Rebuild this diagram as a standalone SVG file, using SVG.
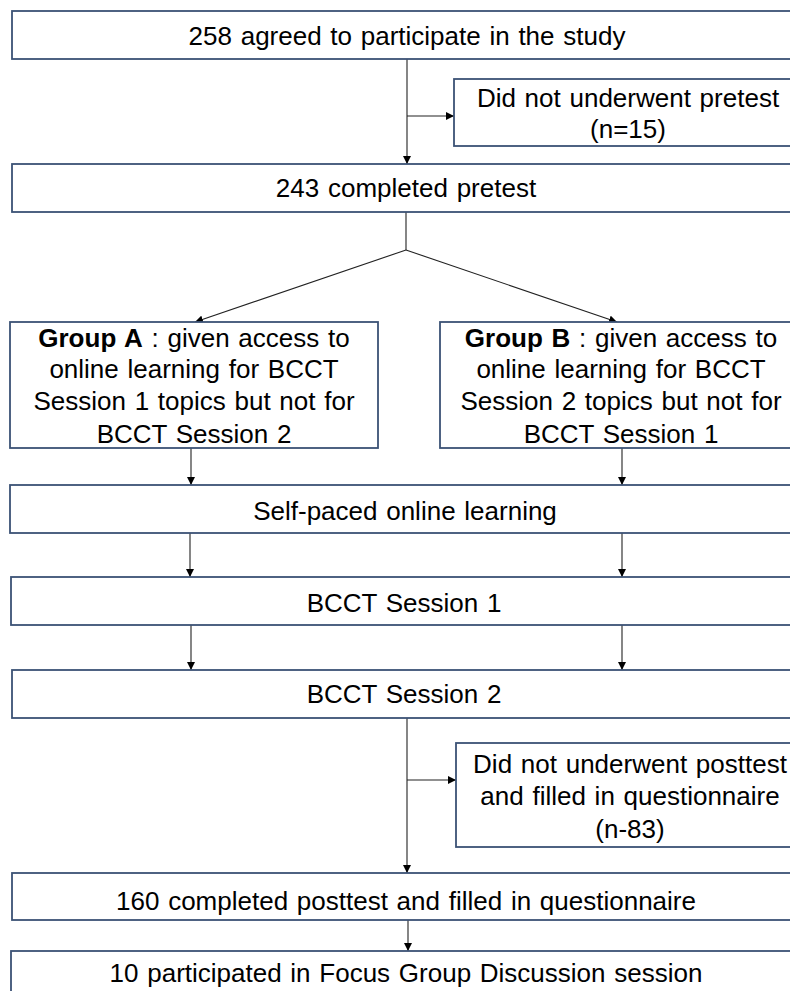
<svg xmlns="http://www.w3.org/2000/svg" width="790" height="991" viewBox="0 0 790 991">
<style>
.box{fill:#fff;stroke:#3b5275;stroke-width:1.8}
.t{font-family:"Liberation Sans",Arial,sans-serif;font-size:26px;fill:#000;text-anchor:middle;word-spacing:1.5px}
.b{font-weight:bold}
.c{stroke:#222;stroke-width:1.1;fill:none}
</style>
<defs>
<marker id="ah" viewBox="0 0 10 10" refX="10" refY="5" markerWidth="8" markerHeight="8" markerUnits="userSpaceOnUse" orient="auto">
<path d="M0,0 L10,5 L0,10 z" fill="#000"/>
</marker>
</defs>
<rect width="790" height="991" fill="#fff"/>
<g id="connectors">
<line class="c" x1="407" y1="59" x2="407" y2="164" marker-end="url(#ah)"/>
<line class="c" x1="407" y1="116" x2="454" y2="116" marker-end="url(#ah)"/>
<polyline class="c" points="406,212 406,250"/>
<line class="c" x1="406" y1="250" x2="195" y2="322" marker-end="url(#ah)"/>
<line class="c" x1="406" y1="250" x2="617" y2="322" marker-end="url(#ah)"/>
<line class="c" x1="191" y1="448" x2="191" y2="485" marker-end="url(#ah)"/>
<line class="c" x1="622" y1="448" x2="622" y2="485" marker-end="url(#ah)"/>
<line class="c" x1="190" y1="533" x2="190" y2="577" marker-end="url(#ah)"/>
<line class="c" x1="622" y1="533" x2="622" y2="577" marker-end="url(#ah)"/>
<line class="c" x1="191" y1="625" x2="191" y2="670" marker-end="url(#ah)"/>
<line class="c" x1="622" y1="625" x2="622" y2="670" marker-end="url(#ah)"/>
<line class="c" x1="407" y1="718" x2="407" y2="873" marker-end="url(#ah)"/>
<line class="c" x1="407" y1="780" x2="456" y2="780" marker-end="url(#ah)"/>
<line class="c" x1="408" y1="920" x2="408" y2="951" marker-end="url(#ah)"/>
</g>
<g id="n1"><rect class="box" x="12" y="11" width="790" height="48"/><text class="t" x="407" y="45">258 agreed to participate in the study</text></g>
<g id="n2"><rect class="box" x="454" y="79" width="350" height="67"/><text class="t" x="628" y="107">Did not underwent pretest</text><text class="t" x="628" y="138">(n=15)</text></g>
<g id="n3"><rect class="box" x="12" y="164" width="790" height="48"/><text class="t" x="406" y="197">243 completed pretest</text></g>
<g id="n4"><rect class="box" x="10" y="322" width="368" height="126"/>
<text class="t" x="194" y="347"><tspan class="b">Group A</tspan> : given access to</text>
<text class="t" x="194" y="378">online learning for BCCT</text>
<text class="t" x="194" y="410">Session 1 topics but not for</text>
<text class="t" x="194" y="443">BCCT Session 2</text></g>
<g id="n5"><rect class="box" x="440" y="322" width="362" height="126"/>
<text class="t" x="621" y="347"><tspan class="b">Group B</tspan> : given access to</text>
<text class="t" x="621" y="378">online learning for BCCT</text>
<text class="t" x="621" y="410">Session 2 topics but not for</text>
<text class="t" x="621" y="443">BCCT Session 1</text></g>
<g id="n6"><rect class="box" x="10" y="485" width="792" height="48"/><text class="t" x="405" y="520">Self-paced online learning</text></g>
<g id="n7"><rect class="box" x="11" y="577" width="791" height="48"/><text class="t" x="404" y="612">BCCT Session 1</text></g>
<g id="n8"><rect class="box" x="12" y="670" width="790" height="48"/><text class="t" x="404" y="703">BCCT Session 2</text></g>
<g id="n9"><rect class="box" x="456" y="743" width="350" height="104"/>
<text class="t" x="630" y="773">Did not underwent posttest</text>
<text class="t" x="630" y="805">and filled in questionnaire</text>
<text class="t" x="630" y="838">(n-83)</text></g>
<g id="n10"><rect class="box" x="12" y="873" width="790" height="47"/><text class="t" x="406" y="910">160 completed posttest and filled in questionnaire</text></g>
<g id="n11"><rect class="box" x="11" y="951" width="791" height="60"/><text class="t" x="406" y="982">10 participated in Focus Group Discussion session</text></g>
</svg>
